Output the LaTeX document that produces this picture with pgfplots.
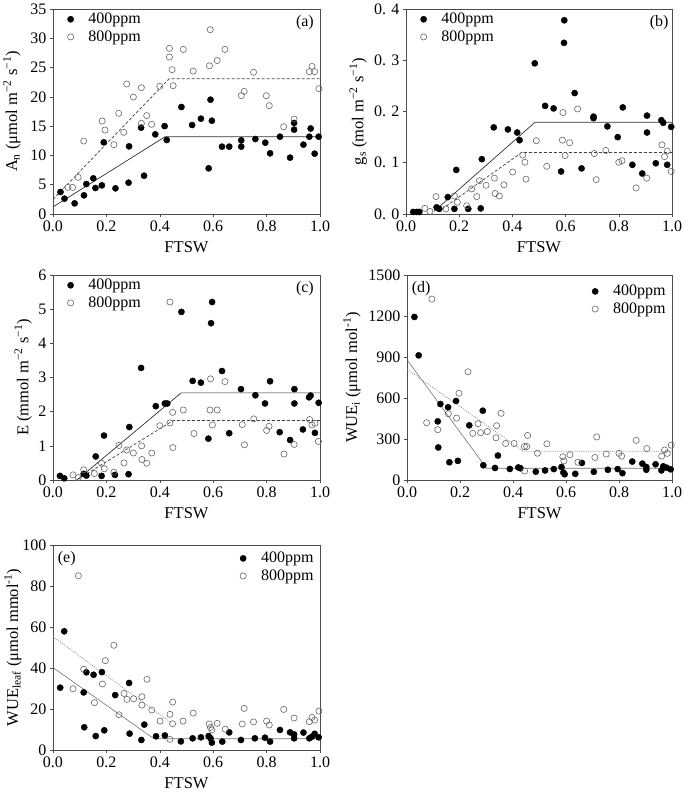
\documentclass[border=0pt]{standalone}
\usepackage{fontspec}
\setmainfont{Liberation Serif}
\usepackage{pgfplots}
\pgfplotsset{compat=1.18}
\pgfplotsset{
  panel/.style={
    scale only axis, width=267pt, height=205pt,
    xmin=0, xmax=1, xtick={0,0.2,0.4,0.6,0.8,1},
    xticklabel style={/pgf/number format/.cd, fixed, fixed zerofill, precision=1},
    /pgf/number format/assume math mode=true,
    /pgf/number format/1000 sep={},
    tick align=outside, major tick length=3pt,
    xtick pos=lower, ytick pos=left,
    axis line style={black!70, line width=0.6pt},
    every tick/.style={black!70, line width=0.6pt},
    tick label style={font=\fontsize{16}{18}\selectfont},
    label style={font=\fontsize{16.5}{19}\selectfont},
    xlabel={FTSW},
    xlabel style={at={(axis description cs:0.5,-0.16)}, anchor=center},
    legend cell align=left,
    legend image code/.code={\draw[#1] plot coordinates {(0.5cm,0cm)}; \path (0cm,0cm) (1.05cm,0cm);},
    legend style={draw=none, fill=none, font=\fontsize{16}{19}\selectfont, row sep=1.5pt},
  },
  filled/.style={only marks, mark=*, mark size=3.1pt, mark options={fill=black, draw=black}},
  open/.style={only marks, mark=o, mark size=3.1pt, mark options={draw=black!60, line width=0.6pt}},
  fitA/.style={black!80, line width=0.7pt, forget plot},
  fitB/.style={black!75, line width=0.7pt, dash pattern=on 3pt off 2pt, forget plot},
  fitC/.style={black!55, line width=0.6pt, forget plot},
  fitD/.style={black!45, line width=0.7pt, dash pattern=on 1pt off 1.2pt, forget plot},
}
\begin{document}
\begin{tikzpicture}[font=\fontsize{16}{19}\selectfont]
\useasboundingbox (0pt,0pt) rectangle (685pt,-793pt);

% (a)
\begin{axis}[panel, at={(53pt,-214pt)}, anchor=south west,
  ymin=0, ymax=35, ytick={0,5,10,15,20,25,30,35},
  ylabel={A\textsubscript{n} (μmol m\textsuperscript{−2} s\textsuperscript{−1})},
  ylabel style={at={(axis description cs:-0.154,0.5)}, anchor=center},
  legend style={at={(axis description cs:0.0,1.0)}, anchor=north west}]
\addplot[filled] coordinates {(0.028,3.76) (0.043,2.62) (0.081,1.82) (0.116,3.19) (0.125,5.12) (0.151,6.09) (0.159,4.44) (0.183,4.89) (0.190,12.24) (0.234,4.38) (0.285,11.55) (0.283,5.35) (0.330,14.74) (0.341,6.54) (0.383,13.6) (0.418,15.0) (0.426,12.63) (0.481,18.27) (0.521,15.19) (0.554,16.28) (0.590,19.52) (0.595,15.93) (0.583,7.80) (0.633,11.5) (0.660,11.5) (0.705,12.58) (0.705,11.5) (0.758,12.8) (0.795,12.18) (0.813,10.36) (0.850,13.2) (0.888,9.62) (0.903,15.54) (0.903,14.4) (0.938,11.84) (0.960,13.2) (0.965,14.6) (0.980,10.3) (0.995,13.2)};
\addlegendentry{400ppm}
\addplot[open] coordinates {(0.056,4.55) (0.073,4.55) (0.094,6.26) (0.115,12.46) (0.184,15.88) (0.195,14.34) (0.228,11.84) (0.246,17.19) (0.265,13.94) (0.276,22.2) (0.301,19.97) (0.331,21.57) (0.331,15.48) (0.351,16.79) (0.369,15.31) (0.400,21.8) (0.436,28.28) (0.436,26.8) (0.446,24.64) (0.450,21.91) (0.488,28.1) (0.525,24.4) (0.589,31.47) (0.586,25.3) (0.615,26.2) (0.644,28.1) (0.705,20.2) (0.716,20.94) (0.751,24.2) (0.799,20.2) (0.810,18.5) (0.864,14.9) (0.903,16.2) (0.960,24.3) (0.970,25.2) (0.980,24.3) (0.996,21.4)};
\addlegendentry{800ppm}
\addplot[fitA] coordinates {(0,1.2) (0.42,13.2) (1,13.2)};
\addplot[fitB] coordinates {(0,2.5) (0.435,23.1) (1,23.1)};
\node[anchor=north east] at (rel axis cs:0.99,0.985) {(a)};
\end{axis}

% (b)
\begin{axis}[panel, at={(406pt,-214pt)}, anchor=south west, width=266pt,
  ymin=0, ymax=0.4, ytick={0,0.1,0.2,0.3,0.4},
  yticklabels={0. 0,0. 1,0. 2,0. 3,0. 4},
  ylabel={g\textsubscript{s} (mol m\textsuperscript{−2} s\textsuperscript{−1})},
  ylabel style={at={(axis description cs:-0.18,0.5)}, anchor=center},
  legend style={at={(axis description cs:0.0,1.0)}, anchor=north west}]
\addplot[filled] coordinates {(0.027,0.004) (0.040,0.004) (0.050,0.004) (0.115,0.013) (0.125,0.010) (0.157,0.033) (0.182,0.010) (0.189,0.086) (0.234,0.010) (0.281,0.011) (0.285,0.107) (0.330,0.169) (0.383,0.165) (0.418,0.159) (0.427,0.144) (0.484,0.294) (0.523,0.211) (0.555,0.206) (0.583,0.083) (0.594,0.334) (0.595,0.378) (0.634,0.236) (0.660,0.089) (0.705,0.190) (0.705,0.187) (0.757,0.171) (0.796,0.150) (0.815,0.208) (0.851,0.096) (0.888,0.079) (0.906,0.192) (0.906,0.159) (0.939,0.099) (0.960,0.183) (0.967,0.178) (0.982,0.096) (0.997,0.170)};
\addlegendentry{400ppm}
\addplot[open] coordinates {(0.071,0.011) (0.090,0.005) (0.113,0.034) (0.150,0.010) (0.182,0.035) (0.193,0.023) (0.228,0.016) (0.247,0.049) (0.266,0.034) (0.276,0.065) (0.301,0.056) (0.332,0.070) (0.335,0.040) (0.351,0.035) (0.368,0.057) (0.401,0.082) (0.439,0.115) (0.447,0.101) (0.451,0.068) (0.490,0.143) (0.529,0.093) (0.588,0.144) (0.590,0.198) (0.598,0.114) (0.615,0.139) (0.645,0.205) (0.708,0.118) (0.715,0.067) (0.751,0.124) (0.800,0.101) (0.812,0.104) (0.865,0.051) (0.905,0.070) (0.962,0.135) (0.972,0.112) (0.982,0.123) (0.997,0.083)};
\addlegendentry{800ppm}
\addplot[fitA] coordinates {(0.105,0.005) (0.485,0.179) (1,0.179)};
\addplot[fitB] coordinates {(0.12,0.004) (0.435,0.12) (1,0.12)};
\node[anchor=north east] at (rel axis cs:1.0,0.985) {(b)};
\end{axis}

% (c)
\begin{axis}[panel, at={(53pt,-480pt)}, anchor=south west,
  ymin=0, ymax=6, ytick={0,1,2,3,4,5,6},
  ylabel={E (mmol m\textsuperscript{−2} s\textsuperscript{−1})},
  ylabel style={at={(axis description cs:-0.112,0.5)}, anchor=center},
  legend style={at={(axis description cs:0.0,1.0)}, anchor=north west}]
\addplot[filled] coordinates {(0.026,0.12) (0.042,0.05) (0.115,0.18) (0.125,0.13) (0.160,0.69) (0.182,0.12) (0.191,1.30) (0.232,0.15) (0.283,0.17) (0.286,1.55) (0.330,3.28) (0.385,2.16) (0.419,2.24) (0.428,2.24) (0.481,4.92) (0.596,5.21) (0.592,4.59) (0.523,2.90) (0.554,2.85) (0.633,3.19) (0.582,1.21) (0.660,1.37) (0.704,2.66) (0.758,2.48) (0.794,2.24) (0.813,2.89) (0.849,1.40) (0.888,1.17) (0.904,2.66) (0.904,2.24) (0.936,1.48) (0.959,2.42) (0.965,2.47) (0.981,1.38) (0.995,2.26)};
\addlegendentry{400ppm}
\addplot[open] coordinates {(0.075,0.15) (0.095,0.07) (0.115,0.30) (0.155,0.19) (0.182,0.49) (0.192,0.33) (0.228,0.23) (0.247,1.01) (0.266,0.50) (0.276,0.88) (0.301,0.79) (0.332,1.00) (0.333,0.60) (0.351,0.49) (0.370,0.79) (0.400,1.59) (0.438,1.67) (0.448,1.98) (0.449,0.95) (0.438,5.21) (0.488,2.05) (0.590,2.96) (0.644,2.88) (0.588,2.05) (0.615,2.05) (0.597,1.61) (0.528,1.36) (0.709,1.62) (0.717,1.03) (0.752,1.79) (0.800,1.45) (0.809,1.57) (0.865,0.76) (0.903,1.04) (0.961,1.77) (0.970,1.61) (0.981,1.66) (0.994,1.13)};
\addlegendentry{800ppm}
\addplot[fitA] coordinates {(0.09,0.0) (0.48,2.55) (1,2.55)};
\addplot[fitB] coordinates {(0.095,0.03) (0.45,1.74) (1,1.74)};
\node[anchor=north east] at (rel axis cs:0.99,0.985) {(c)};
\end{axis}

% (d)
\begin{axis}[panel, at={(407pt,-480pt)}, anchor=south west, width=265pt,
  ymin=0, ymax=1500, ytick={0,300,600,900,1200,1500},
  ylabel={WUE\textsubscript{i} (μmol mol\textsuperscript{-1})},
  ylabel style={at={(axis description cs:-0.208,0.5)}, anchor=center},
  legend style={at={(axis description cs:0.995,0.97)}, anchor=north east}]
\addplot[filled] coordinates {(0.028,1193) (0.044,912) (0.116,429) (0.118,238) (0.126,556) (0.155,532) (0.160,130) (0.185,578) (0.192,140) (0.235,400) (0.286,507) (0.288,108) (0.332,88) (0.343,179) (0.388,81) (0.420,92) (0.428,86) (0.486,61) (0.521,70) (0.554,80) (0.583,95) (0.590,55) (0.595,42) (0.635,45) (0.660,125) (0.705,60) (0.758,75) (0.795,80) (0.813,50) (0.850,135) (0.888,120) (0.903,95) (0.903,75) (0.938,115) (0.960,70) (0.967,100) (0.980,90) (0.995,78)};
\addlegendentry{400ppm}
\addplot[open] coordinates {(0.074,419) (0.094,1324) (0.116,368) (0.156,485) (0.187,453) (0.196,635) (0.230,792) (0.248,341) (0.268,412) (0.278,346) (0.303,355) (0.336,309) (0.338,397) (0.355,488) (0.372,267) (0.404,267) (0.443,245) (0.452,245) (0.455,326) (0.444,66) (0.492,196) (0.528,265) (0.588,170) (0.592,140) (0.615,185) (0.645,130) (0.709,165) (0.716,315) (0.752,190) (0.800,195) (0.810,175) (0.865,290) (0.905,230) (0.961,175) (0.972,220) (0.982,195) (0.997,255)};
\addlegendentry{800ppm}
\addplot[fitC] coordinates {(0,880) (0.30,86) (1,86)};
\addplot[fitD] coordinates {(0,810) (0.44,210) (1,210)};
\node[anchor=north west] at (rel axis cs:0.005,0.985) {(d)};
\end{axis}

% (e)
\begin{axis}[panel, at={(53pt,-750pt)}, anchor=south west,
  ymin=0, ymax=100, ytick={0,20,40,60,80,100},
  ylabel={WUE\textsubscript{leaf} (μmol mmol\textsuperscript{-1})},
  ylabel style={at={(axis description cs:-0.15,0.5)}, anchor=center},
  legend style={at={(axis description cs:0.995,0.985)}, anchor=north east}]
\addplot[filled] coordinates {(0.027,30.4) (0.042,57.9) (0.115,28.1) (0.117,11.1) (0.125,37.9) (0.152,36.7) (0.160,6.8) (0.183,38.0) (0.192,9.6) (0.233,26.8) (0.285,32.7) (0.287,8.0) (0.331,4.9) (0.342,12.4) (0.386,6.7) (0.419,7.1) (0.479,4.2) (0.523,5.7) (0.554,6.2) (0.583,6.8) (0.590,5.7) (0.595,3.6) (0.634,4.1) (0.660,8.6) (0.704,4.9) (0.756,5.7) (0.794,6.0) (0.813,4.1) (0.850,9.8) (0.888,8.6) (0.903,7.6) (0.903,5.7) (0.938,8.5) (0.960,5.7) (0.970,6.5) (0.980,7.9) (0.995,6.2)};
\addlegendentry{400ppm}
\addplot[open] coordinates {(0.075,29.9) (0.095,85.0) (0.115,39.4) (0.155,23.1) (0.185,32.2) (0.196,43.6) (0.228,51.1) (0.247,17.2) (0.266,27.6) (0.277,24.7) (0.302,25.0) (0.333,26.0) (0.333,21.9) (0.352,34.5) (0.370,19.5) (0.401,14.1) (0.438,17.4) (0.448,23.4) (0.448,12.8) (0.438,5.2) (0.487,14.1) (0.525,18.0) (0.585,12.7) (0.590,11.0) (0.595,9.8) (0.615,13.0) (0.645,10.2) (0.709,12.7) (0.716,20.3) (0.751,13.7) (0.800,14.1) (0.810,12.2) (0.864,19.8) (0.903,15.6) (0.960,13.8) (0.970,15.9) (0.980,14.6) (0.996,19.0)};
\addlegendentry{800ppm}
\addplot[fitC] coordinates {(0,40.2) (0.378,5.5) (1,5.5)};
\addplot[fitD] coordinates {(0,55.3) (0.442,13.3)};
\node[anchor=north west] at (rel axis cs:0.005,0.985) {(e)};
\end{axis}
\end{tikzpicture}
\end{document}
